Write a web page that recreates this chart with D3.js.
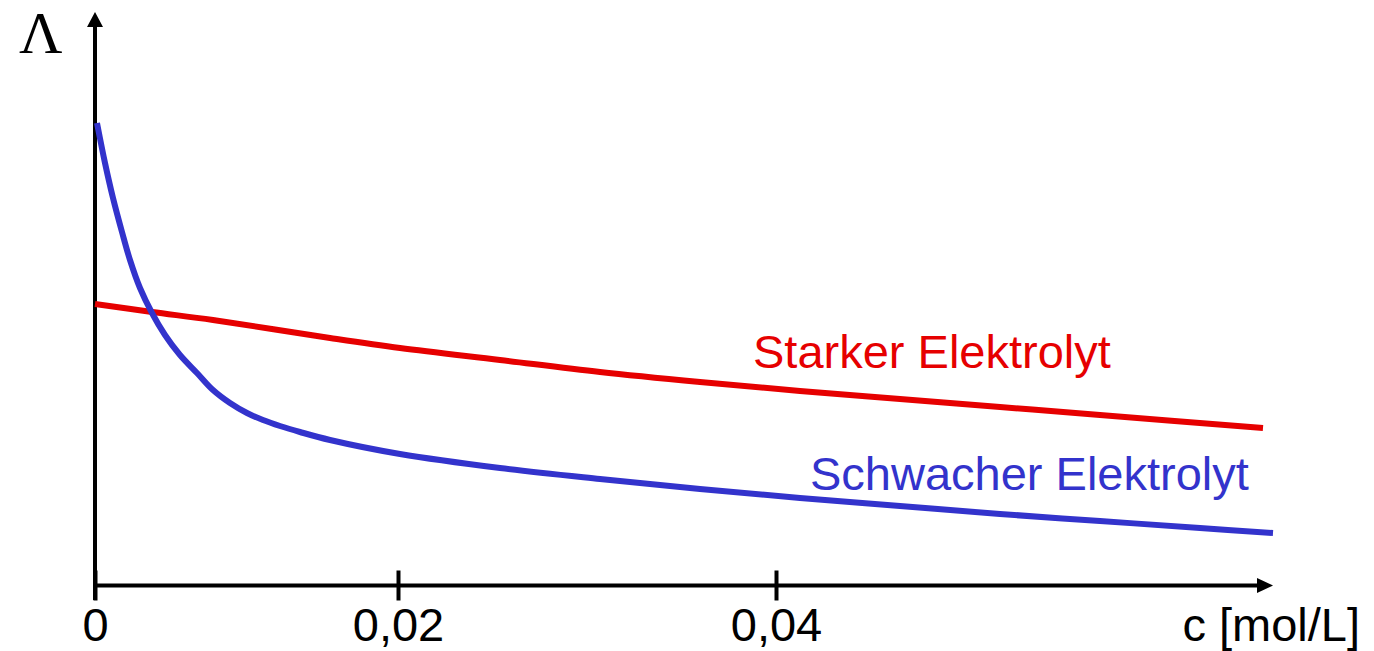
<!DOCTYPE html>
<html>
<head>
<meta charset="utf-8">
<script src="https://d3js.org/d3.v7.min.js"></script>
<style>
body{margin:0;background:#fff}
svg{display:block}
</style>
</head>
<body>
<div id="chart"></div>
<script>
// concentration c [mol/L] and molar conductivity (arbitrary units)
const strongC = [0, 0.003762, 0.007789, 0.015512, 0.020106, 0.025397, 0.030688,
                 0.035979, 0.04127, 0.046561, 0.051852, 0.057143, 0.065767];
const strongL = [56.3, 54.7, 53.1, 49.5, 47.5, 45.1, 42.7,
                 40.7, 38.9, 37.3, 35.7, 34.1, 31.5];

const weakC = [0.000132, 0.00066, 0.001188, 0.001782, 0.00231, 0.00297, 0.003762, 0.00462,
               0.00561, 0.006733, 0.007789, 0.008911, 0.010033, 0.011089, 0.012211, 0.013531,
               0.015512, 0.020106, 0.025397, 0.030688, 0.035979, 0.04127, 0.046561, 0.051852,
               0.057143, 0.062434, 0.066296];
const weakL = [92.5, 84.5, 77.5, 70.7, 65.1, 59.5, 54.5, 50.1,
               46.1, 42.5, 39.1, 36.5, 34.5, 33.1, 31.9, 30.7,
               29.1, 26.3, 23.5, 21.3, 19.3, 17.5, 15.9, 14.3,
               12.9, 11.5, 10.5];

const tickVals = [0, 0.02, 0.04];
const tickLabels = ["0", "0,02", "0,04"];
const seriesNames = ["Starker Elektrolyt", "Schwacher Elektrolyt"];
const xTitle = "c [mol/L]";
const yTitle = "\u039B";

const W = 1374, H = 651;
const x0 = 95, yAxis = 585.5;
const sans = "'Liberation Sans',Arial,Helvetica,sans-serif";

const svg = d3.select("#chart").append("svg").attr("width", W).attr("height", H);

// tick spacing in the sketch is not even, so the scale is piecewise
const x = d3.scaleLinear().domain(tickVals).range([95, 398, 776]);
const y = d3.scaleLinear().domain([0, 100]).range([yAxis, 85.5]);

// x axis
const xAx = svg.append("g")
  .attr("transform", `translate(0,${yAxis})`)
  .call(d3.axisBottom(x).tickValues(tickVals).tickFormat((d, i) => tickLabels[i]).tickSizeOuter(0));
xAx.select(".domain").remove();
xAx.selectAll(".tick line").attr("y1", -15).attr("y2", 15).attr("stroke", "#000").attr("stroke-width", 4);
xAx.selectAll(".tick text").attr("y", 55.5).attr("dy", 0)
  .attr("fill", "#000")
  .style("font-size", "47px").style("font-family", sans);

svg.append("line").attr("x1", x0).attr("x2", 1258).attr("y1", yAxis).attr("y2", yAxis)
  .attr("stroke", "#000").attr("stroke-width", 4);
svg.append("polygon")
  .attr("points", `1273,${yAxis} 1257,${yAxis - 7.5} 1257,${yAxis + 7.5}`).attr("fill", "#000");

// y axis
svg.append("line").attr("x1", x0).attr("x2", x0).attr("y1", 600).attr("y2", 26)
  .attr("stroke", "#000").attr("stroke-width", 4);
svg.append("polygon")
  .attr("points", `${x0},12 ${x0 - 8},27 ${x0 + 8},27`).attr("fill", "#000");

// curves
const line = d3.line().x(d => x(d[0])).y(d => y(d[1])).curve(d3.curveCatmullRom.alpha(0.5));

svg.append("path").datum(strongC.map((c, i) => [c, strongL[i]]))
  .attr("d", line).attr("fill", "none").attr("stroke", "#e60000").attr("stroke-width", 6);
svg.append("path").datum(weakC.map((c, i) => [c, weakL[i]]))
  .attr("d", line).attr("fill", "none").attr("stroke", "#3333cc").attr("stroke-width", 6);

// labels
function label(t, px, py, size, fill, family, anchor) {
  svg.append("text").attr("x", px).attr("y", py).attr("fill", fill)
    .attr("text-anchor", anchor || "start")
    .style("font-size", size + "px").style("font-family", family)
    .text(t);
}
label(seriesNames[0], 753, 368, 47, "#e60000", sans);
label(seriesNames[1], 810, 490, 47, "#3333cc", sans);
label(xTitle, 1360, 641, 47, "#000", sans, "end");
label(yTitle, 19, 53, 60, "#000", "'Liberation Serif','Times New Roman',serif");
</script>
</body>
</html>
